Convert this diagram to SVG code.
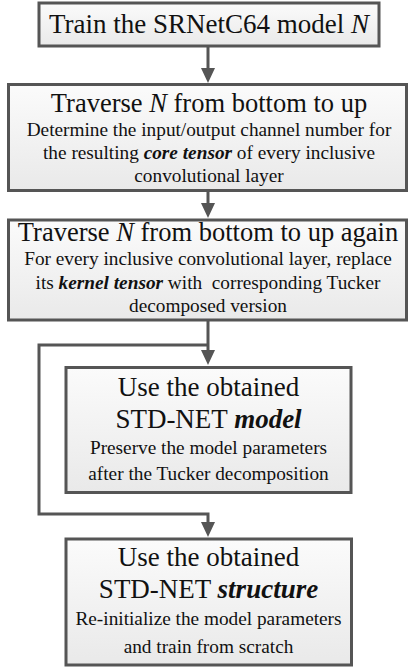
<svg xmlns="http://www.w3.org/2000/svg" width="416" height="668" viewBox="0 0 416 668">
<defs>
<linearGradient id="g" x1="0" y1="0" x2="0" y2="1">
<stop offset="0" stop-color="#fbfbfb"/>
<stop offset="1" stop-color="#e9e9e9"/>
</linearGradient>
<marker id="ah" viewBox="0 0 15 14" markerWidth="15" markerHeight="14" refX="0" refY="7" orient="auto" markerUnits="userSpaceOnUse">
<path d="M0,0 L15,7 L0,14 z" fill="#555555"/>
</marker>
</defs>
<style>
.box{fill:url(#g);stroke:#555555;stroke-width:3}
.conn{fill:none;stroke:#555555;stroke-width:3}
text{font-family:"Liberation Serif","Times New Roman",serif;fill:#111111;text-anchor:middle}
.t1{font-size:27px}
.t2{font-size:26.5px}
.s{font-size:19.3px}
.i{font-style:italic}
.bi{font-style:italic;font-weight:bold}
</style>
<g id="connectors">
<path class="conn" d="M208,46 V68" marker-end="url(#ah)"/>
<path class="conn" d="M208,190.5 V203" marker-end="url(#ah)"/>
<path class="conn" d="M208,320 V350" marker-end="url(#ah)"/>
<path class="conn" d="M208,345 H39 V514 H208 V522" marker-end="url(#ah)"/>
</g>
<g id="n1">
<rect class="box" x="39" y="3" width="340" height="43"/>
<text class="t1" x="209" y="33">Train the SRNetC64 model <tspan class="i">N</tspan></text>
</g>
<g id="n2">
<rect class="box" x="8.5" y="84.5" width="398" height="106"/>
<text class="t2" x="209" y="111.5">Traverse <tspan class="i">N</tspan> from bottom to up</text>
<text class="s" x="209" y="135.5">Determine the input/output channel number for</text>
<text class="s" x="209" y="159">the resulting <tspan class="bi">core tensor</tspan> of every inclusive</text>
<text class="s" x="209" y="181.5">convolutional layer</text>
</g>
<g id="n3">
<rect class="box" x="8.5" y="220" width="398" height="100"/>
<text class="t2" x="208" y="241">Traverse <tspan class="i">N</tspan> from bottom to up again</text>
<text class="s" x="208" y="265">For every inclusive convolutional layer, replace</text>
<text class="s" x="208" y="289" style="white-space:pre">its <tspan class="bi">kernel tensor</tspan> with  corresponding Tucker</text>
<text class="s" x="208" y="312">decomposed version</text>
</g>
<g id="n4">
<rect class="box" x="66" y="367.5" width="285" height="125"/>
<text class="t1" x="208.5" y="396">Use the obtained</text>
<text class="t1" x="208.5" y="428">STD-NET <tspan class="bi">model</tspan></text>
<text class="s" x="208.5" y="454">Preserve the model parameters</text>
<text class="s" x="208.5" y="480">after the Tucker decomposition</text>
</g>
<g id="n5">
<rect class="box" x="66" y="539" width="285.5" height="126"/>
<text class="t1" x="208.5" y="566">Use the obtained</text>
<text class="t1" x="208.5" y="598">STD-NET <tspan class="bi">structure</tspan></text>
<text class="s" x="208.5" y="624.5">Re-initialize the model parameters</text>
<text class="s" x="208.5" y="652.5">and train from scratch</text>
</g>
</svg>
